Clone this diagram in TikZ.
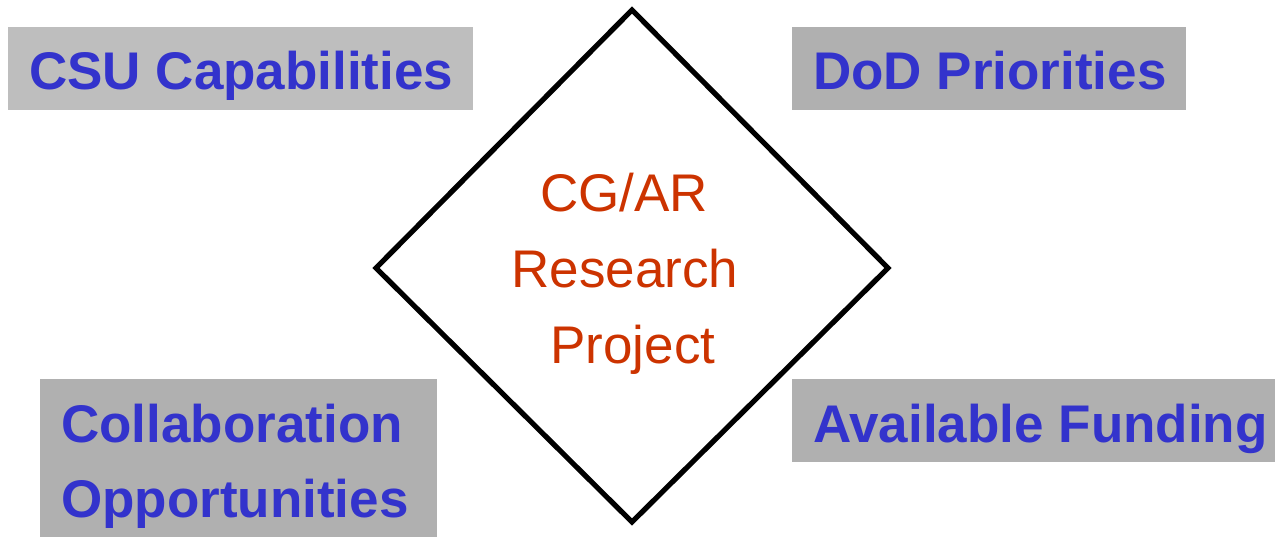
\documentclass[tikz,border=0pt]{standalone}
\usepackage{fontspec}
\setmainfont{Liberation Sans}
\definecolor{boxlight}{HTML}{BEBEBE}
\definecolor{boxgray}{HTML}{B0B0B0}
\definecolor{labelblue}{HTML}{3333CC}
\definecolor{centerred}{HTML}{CC3300}
\begin{document}
\begin{tikzpicture}[x=1pt,y=-1pt,
  panel/.style={rectangle, inner sep=0pt, draw=none},
  factor/.style={text=labelblue, font=\fontsize{53}{75}\selectfont\bfseries, inner sep=0pt, anchor=base west},
  core/.style={text=centerred, font=\fontsize{53}{76}\selectfont, inner sep=0pt, anchor=base},
  outline/.style={line width=5.2pt, line join=miter}]
\useasboundingbox (0,0) rectangle (1275,537);
% grey panels
\node[panel, fill=boxlight, minimum width=465, minimum height=83] (csubox) at (240.5,68.5) {};
\node[panel, fill=boxgray, minimum width=394, minimum height=83] (dodbox) at (989,68.5) {};
\node[panel, fill=boxgray, minimum width=397, minimum height=170] (colbox) at (238.5,464) {};
\node[panel, fill=boxgray, minimum width=498, minimum height=83] (fundbox) at (1041,420.5) {};
% panel labels
\node[factor] (csu) at (29,90) {CSU Capabilities};
\node[factor] (dod) at (813,90) {DoD Priorities};
\node[factor] (col1) at (61,442) {Collaboration};
\node[factor] (col2) at (61,517) {Opportunities};
\node[factor] (fund) at (813,442) {Available Funding};
% central diamond
\coordinate (top) at (632,10);
\coordinate (right) at (888,268);
\coordinate (bottom) at (632,522);
\coordinate (left) at (376,268);
\draw[outline] (top) -- (right) -- (bottom) -- (left) -- cycle;
\node[core] (l1) at (624,212) {CG/AR};
\node[core] (l2) at (625,288) {Research};
\node[core] (l3) at (633,364) {Project};
\end{tikzpicture}
\end{document}
